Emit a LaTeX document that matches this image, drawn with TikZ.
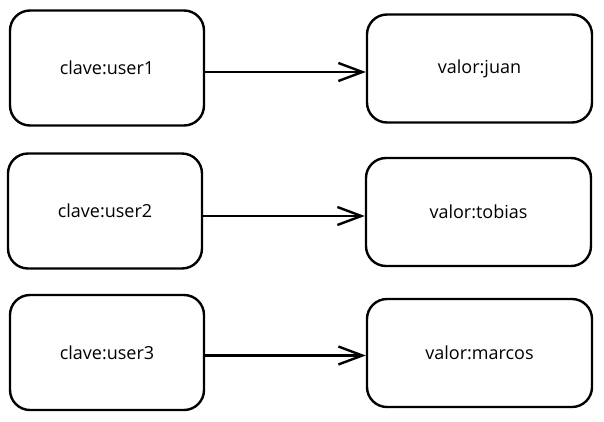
\documentclass[tikz,border=0pt]{standalone}
\usepackage{fontspec}
\setmainfont{Open Sans}
\usepackage{tikz}
\usetikzlibrary{arrows.meta,positioning,calc}
\tikzset{keybox/.style={draw,rounded corners=20pt,line width=2.4pt,minimum width=194pt,minimum height=115pt,font=\fontsize{18}{21}\selectfont}}
\tikzset{valbox/.style={keybox,minimum width=225pt,minimum height=108pt}}

\begin{document}
\begin{tikzpicture}[x=1pt, y=-1pt, semithick]
        \tikzstyle{conn}=[-{Straight Barb[length=24pt,width=18pt,line width=2.4pt]},line width=2.8pt]
        \useasboundingbox (0,0) rectangle (604,421);
        \node[keybox] (K1) at (107,68) {clave:user1\hspace{14pt}};
        \node[keybox] (K2) at (105,211) {clave:user2\hspace{14pt}};
        \node[keybox] (K3) at (107,352.5) {clave:user3\hspace{14pt}};
        \node[valbox] (V1) at (479.5,68.5) {valor:juan};
        \node[valbox] (V2) at (478.5,212) {valor:tobias};
        \node[valbox] (V3) at (479.5,353) {valor:marcos};
        \draw[conn] ([yshift=-4pt]K1.east) -- ([yshift=-4pt]K1.east -| V1.west);
        \draw[conn] ([yshift=-5pt]K2.east) -- ([yshift=-5pt]K2.east -| V2.west);
        \draw[conn] ([yshift=-3pt]K3.east) -- ([yshift=-3pt]K3.east -| V3.west);
\end{tikzpicture}
\end{document}
